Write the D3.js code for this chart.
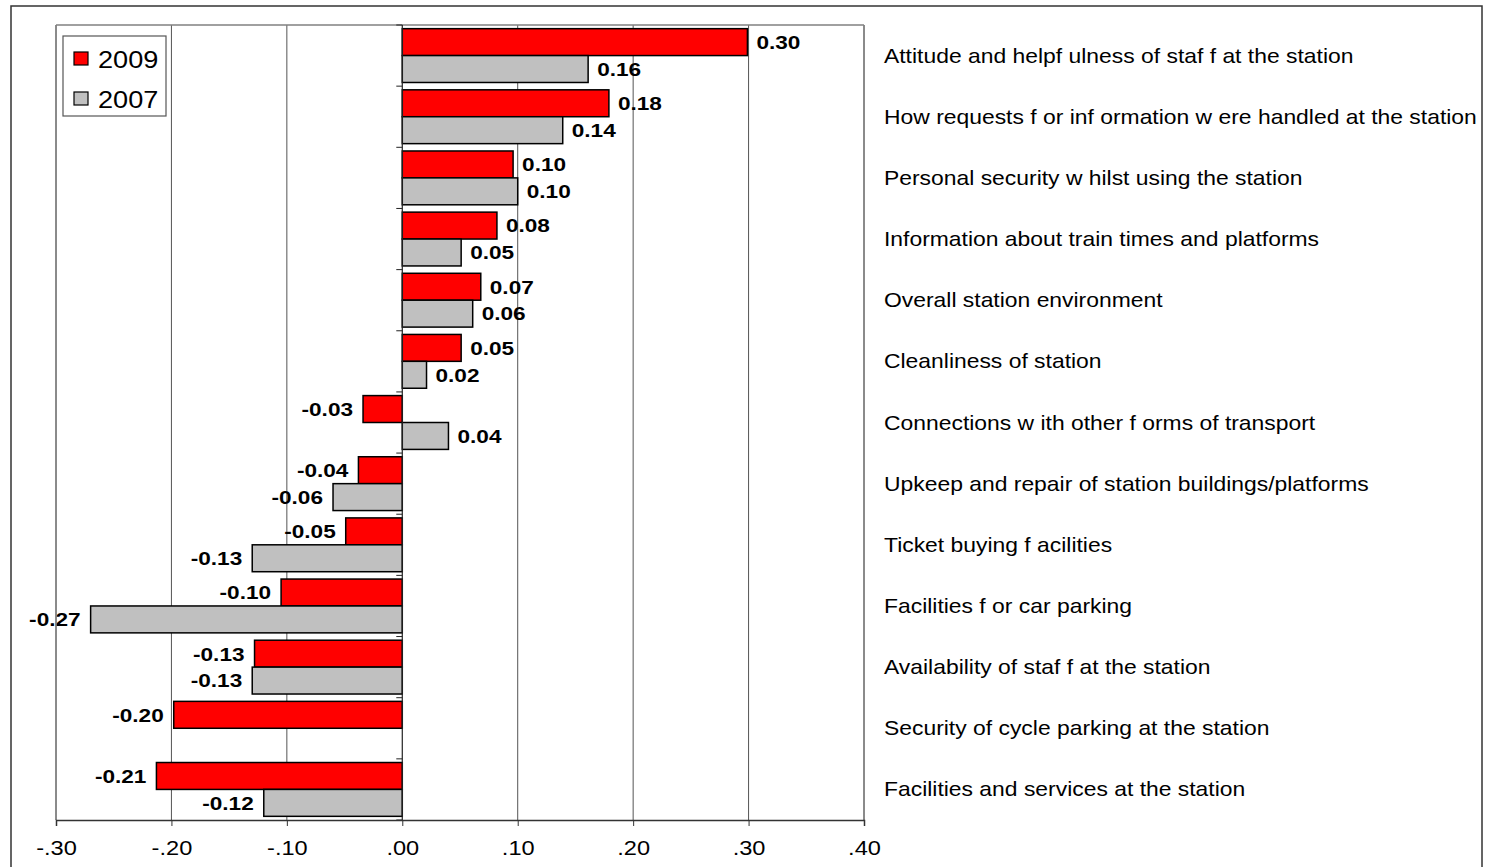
<!DOCTYPE html>
<html>
<head>
<meta charset="utf-8">
<script src="https://cdn.jsdelivr.net/npm/d3@7"></script>
<style>
  html, body { margin: 0; padding: 0; background: #fff; }
  svg { display: block; font-family: "Liberation Sans", Arial, sans-serif; }
</style>
</head>
<body>
<svg id="chart" width="1487" height="867"></svg>
<script>
// Station satisfaction drivers: change scores, 2009 vs 2007
const categories = [
  "Attitude and helpf ulness of staf f at the station",
  "How  requests f or inf ormation w ere handled at the station",
  "Personal security w hilst using the station",
  "Information about train times and platforms",
  "Overall station environment",
  "Cleanliness of station",
  "Connections w ith other f orms of transport",
  "Upkeep and repair of station buildings/platforms",
  "Ticket buying f acilities",
  "Facilities f or car parking",
  "Availability of staf f at the station",
  "Security of cycle parking at the station",
  "Facilities and services at the station"
];
const values2009 = [0.299, 0.179, 0.096, 0.082, 0.068, 0.051, -0.034, -0.038, -0.049, -0.105, -0.128, -0.198, -0.213];
const values2007 = [0.161, 0.139, 0.100, 0.051, 0.061, 0.021, 0.040, -0.060, -0.130, -0.270, -0.130, null, -0.120];
const seriesNames = ["2009", "2007"];
const seriesColors = ["#ff0000", "#c0c0c0"];
const xTicks = [-0.30, -0.20, -0.10, 0.00, 0.10, 0.20, 0.30, 0.40];

const svg = d3.select("#chart");
const plot = { left: 56, right: 864, top: 25, bottom: 820 };

// text in this chart is set wide; place each label at (x,y) and stretch it horizontally
function placeWide(sel, sx) {
  sel.each(function () {
    const t = d3.select(this);
    const px = +t.attr("x") || 0, py = +t.attr("y") || 0;
    t.attr("x", 0).attr("y", 0)
      .attr("transform", `translate(${px},${py}) scale(${sx},1)`);
  });
}
// plain hyphen for negatives, as typeset in the source table
const fmtVal = v => (v < 0 ? "-" : "") + d3.format(".2f")(Math.abs(v));
const fmtTick = v => (v < -1e-9 ? "-" : "") + d3.format(".2f")(Math.abs(v)).replace(/^0/, "");

// outer frame
svg.append("rect")
  .attr("x", 11).attr("y", 6).attr("width", 1471).attr("height", 870)
  .attr("fill", "none").attr("stroke", "#333").attr("stroke-width", 1.5);

const x = d3.scaleLinear().domain([-0.30, 0.40]).range([plot.left, plot.right]);
const y = d3.scaleBand().domain(categories).range([plot.top, plot.bottom])
  .paddingInner(0.12).paddingOuter(0.06);
const ySeries = d3.scaleBand().domain(seriesNames).range([0, y.bandwidth()]);
const color = d3.scaleOrdinal().domain(seriesNames).range(seriesColors);

// vertical gridlines
svg.append("g").selectAll("line")
  .data(xTicks.filter(t => t !== 0))
  .join("line")
  .attr("x1", d => x(d)).attr("x2", d => x(d))
  .attr("y1", plot.top).attr("y2", plot.bottom)
  .attr("stroke", "#555").attr("stroke-width", 1);

// plot frame (top edge)
svg.append("line")
  .attr("x1", plot.left).attr("x2", plot.right)
  .attr("y1", plot.top).attr("y2", plot.top)
  .attr("stroke", "#808080").attr("stroke-width", 1.5);

// bars
const rows = categories.map((c, i) => ({ cat: c, vals: [values2009[i], values2007[i]] }));
const groups = svg.append("g").selectAll("g")
  .data(rows).join("g")
  .attr("transform", d => `translate(0,${y(d.cat)})`);

const cells = groups.selectAll("g.cell")
  .data(d => seriesNames.map((s, k) => ({ series: s, value: d.vals[k] })).filter(e => e.value !== null))
  .join("g").attr("class", "cell");

cells.append("rect")
  .attr("x", d => x(Math.min(0, d.value)))
  .attr("width", d => Math.abs(x(d.value) - x(0)))
  .attr("y", d => ySeries(d.series))
  .attr("height", ySeries.bandwidth())
  .attr("fill", d => color(d.series))
  .attr("stroke", "#000").attr("stroke-width", 1.5);

const valueLabels = cells.append("text")
  .attr("x", d => d.value >= 0 ? x(d.value) + 9 : x(d.value) - 10)
  .attr("y", d => ySeries(d.series) + ySeries.bandwidth() / 2)
  .attr("dy", "0.36em")
  .attr("text-anchor", d => d.value >= 0 ? "start" : "end")
  .attr("font-size", 19).attr("font-weight", "bold").attr("fill", "#000")
  .text(d => fmtVal(d.value));
placeWide(valueLabels, 1.19);

// zero axis with category boundary ticks
svg.append("line")
  .attr("x1", x(0)).attr("x2", x(0))
  .attr("y1", plot.top).attr("y2", plot.bottom)
  .attr("stroke", "#222").attr("stroke-width", 1.2);
const step = y.step();
svg.append("g").selectAll("line")
  .data(d3.range(categories.length + 1))
  .join("line")
  .attr("x1", x(0) - 6).attr("x2", x(0))
  .attr("y1", i => plot.top + i * step).attr("y2", i => plot.top + i * step)
  .attr("stroke", "#222").attr("stroke-width", 1);

// left and right edges of plot area
svg.append("line")
  .attr("x1", plot.left).attr("x2", plot.left)
  .attr("y1", plot.top).attr("y2", plot.bottom)
  .attr("stroke", "#808080").attr("stroke-width", 1.5);
svg.append("line")
  .attr("x1", plot.right).attr("x2", plot.right)
  .attr("y1", plot.top).attr("y2", plot.bottom)
  .attr("stroke", "#808080").attr("stroke-width", 1.5);

// bottom axis
const xAxis = d3.axisBottom(x).tickValues(xTicks).tickFormat(fmtTick).tickSize(6).tickPadding(15);
const axisG = svg.append("g").attr("transform", `translate(0,${plot.bottom})`).call(xAxis);
axisG.select(".domain").attr("stroke", "#333").attr("stroke-width", 1.5);
axisG.selectAll(".tick line").attr("stroke", "#333");
axisG.selectAll(".tick text")
  .attr("font-size", 20).attr("fill", "#000")
  .attr("font-family", "Liberation Sans, Arial, sans-serif");
placeWide(axisG.selectAll(".tick text"), 1.18);

// category labels
const catLabels = svg.append("g").selectAll("text")
  .data(categories).join("text")
  .attr("x", 884)
  .attr("y", d => y(d) + y.bandwidth() / 2)
  .attr("dy", "0.35em")
  .attr("font-size", 20).attr("fill", "#000")
  .text(d => d);
placeWide(catLabels, 1.145);

// legend
const legend = svg.append("g");
legend.append("rect")
  .attr("x", 63).attr("y", 36).attr("width", 103).attr("height", 80)
  .attr("fill", "#fff").attr("stroke", "#555").attr("stroke-width", 1.2);
const legItems = legend.selectAll("g.item").data(seriesNames).join("g")
  .attr("class", "item")
  .attr("transform", (d, i) => `translate(74,${52 + i * 40})`);
legItems.append("rect")
  .attr("width", 14).attr("height", 13)
  .attr("fill", d => color(d)).attr("stroke", "#000").attr("stroke-width", 1.2);
const legText = legItems.append("text")
  .attr("x", 24).attr("y", 7).attr("dy", "0.36em")
  .attr("font-size", 24).attr("fill", "#000")
  .text(d => d);
placeWide(legText, 1.13);
</script>
</body>
</html>
